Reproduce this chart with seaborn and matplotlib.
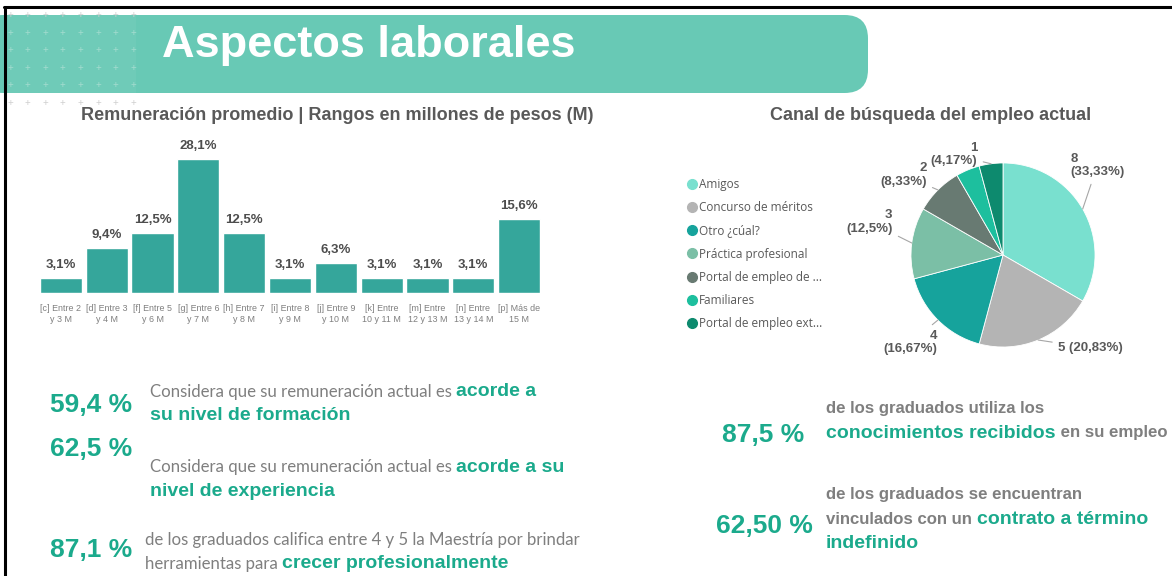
import matplotlib
matplotlib.use("Agg")
import matplotlib.pyplot as plt
import seaborn as sns
import numpy as np
import pandas as pd
from matplotlib.patches import FancyBboxPatch, Rectangle
from matplotlib.lines import Line2D

# ---------------- data ----------------
salary_ranges = ["[c] Entre 2\ny 3 M", "[d] Entre 3\ny 4 M", "[f] Entre 5\ny 6 M",
                 "[g] Entre 6\ny 7 M", "[h] Entre 7\ny 8 M", "[i] Entre 8\ny 9 M",
                 "[j] Entre 9\ny 10 M", "[k] Entre\n10 y 11 M", "[m] Entre\n12 y 13 M",
                 "[n] Entre\n13 y 14 M", "[p] Más de\n15 M"]
salary_pct = [3.1, 9.4, 12.5, 28.1, 12.5, 3.1, 6.3, 3.1, 3.1, 3.1, 15.6]

channels = ["Amigos", "Concurso de méritos", "Otro ¿cúal?", "Práctica profesional",
            "Portal de empleo de ...", "Familiares", "Portal de empleo ext..."]
channel_counts = [8, 5, 4, 3, 2, 1, 1]
channel_pct = ["33,33%", "20,83%", "16,67%", "12,5%", "8,33%", "4,17%", "4,17%"]
# the reference hides the label of "Familiares"
channel_shown = [True, True, True, True, True, False, True]
channel_colors = ["#79E0CF", "#B4B4B4", "#16A39C", "#7BBFA6", "#687A72", "#1DBF9E", "#0D8A6E"]

W, H = 1172, 576
TEAL = "#1BAA8C"
GRAY = "#595959"
LIGHT = "#7F7F7F"
BANNER = "#68C9B5"

sns.set_theme(style="white")
plt.rcParams["font.family"] = ["Liberation Sans", "DejaVu Sans"]

fig = plt.figure(figsize=(W / 100, H / 100), dpi=100)
fig.patch.set_facecolor("white")


def fx(x):
    return x / W


def fy(y):
    return 1 - y / H


# frame lines
fig.add_artist(Line2D([fx(4), fx(W)], [fy(7), fy(7)], color="black", lw=2.2))
fig.add_artist(Line2D([fx(5), fx(5)], [fy(7), fy(H)], color="black", lw=2.2))

# banner
banner = FancyBboxPatch((fx(-20), fy(93)), fx(888), (93 - 15) / H,
                        boxstyle="round,pad=0,rounding_size=0.02",
                        mutation_aspect=W / H,
                        transform=fig.transFigure, facecolor=BANNER, edgecolor="none")
fig.add_artist(banner)
fig.add_artist(Rectangle((fx(6), fy(93)), fx(130), (93 - 15) / H, transform=fig.transFigure,
                         facecolor="#6FCBB8", edgecolor="none"))
for px in np.arange(10, 140, 17.6):
    for py in np.arange(15, 110, 17.6):
        c = "#D0D0D0" if py > 95 or py < 20 else "#A3DCCF"
        fig.text(fx(px), fy(py), "+", color=c, fontsize=7, ha="center", va="center")
fig.text(fx(162), fy(45), "Aspectos laborales", color="white", fontsize=32.5,
         fontweight="bold", ha="left", va="center")

# ---------------- bar chart ----------------
fig.text(fx(337), fy(116), "Remuneración promedio | Rangos en millones de pesos (M)",
         color=GRAY, fontsize=13, fontweight="bold", ha="center", va="center")

ax = fig.add_axes([fx(38), fy(293), 504 / W, (293 - 150) / H])
df = pd.DataFrame({"rango": salary_ranges, "pct": salary_pct})
sns.barplot(data=df, x="rango", y="pct", color="#35A69B", saturation=1, width=0.92, ax=ax)
ax.set_ylim(0, 30)
ax.set_xlim(-0.5, len(salary_ranges) - 0.5)
ax.set_xlabel("")
ax.set_ylabel("")
ax.set_yticks([])
ax.tick_params(axis="x", length=0, labelsize=6.4, labelcolor=LIGHT, pad=8)
for s in ax.spines.values():
    s.set_visible(False)
ax.patch.set_alpha(0)
for i, v in enumerate(salary_pct):
    ax.annotate(f"{v:.1f}%".replace(".", ","), (i, v), xytext=(0, 5),
                textcoords="offset points", ha="center", va="bottom",
                fontsize=9.5, fontweight="bold", color="#4D4D4D")

# ---------------- pie chart ----------------
fig.text(fx(931), fy(115), "Canal de búsqueda del empleo actual",
         color=GRAY, fontsize=13, fontweight="bold", ha="center", va="center")

pax = fig.add_axes([fx(853), fy(405), 300 / W, 300 / H])
wedges, _ = pax.pie(channel_counts, colors=channel_colors, startangle=90,
                    counterclock=False, radius=1,
                    wedgeprops=dict(edgecolor="white", linewidth=0.6))
pax.set_xlim(-1.63, 1.63)
pax.set_ylim(-1.63, 1.63)
pax.set_aspect("equal")

# label anchors (pie units), as placed in the reference ("best fit")
label_anchor = [(0.73, 0.97), (0.60, -1.01), (-0.71, -0.95), (-1.20, 0.36),
                (-0.83, 0.87), None, (-0.28, 1.09)]

for w, n, p, shown, anc in zip(wedges, channel_counts, channel_pct, channel_shown,
                               label_anchor):
    if not shown:
        continue
    ang = np.deg2rad((w.theta1 + w.theta2) / 2)
    cx, cy = np.cos(ang), np.sin(ang)
    single = cy < -0.6 and cx > 0.2
    label = f"{n} ({p})" if single else f"{n}\n({p})"
    ha = "left" if anc[0] > 0 else "right"
    pax.annotate(label, xy=(cx, cy), xytext=anc,
                 ha=ha, va="center", fontsize=9.5, fontweight="bold", color=GRAY,
                 multialignment=ha, linespacing=1.15,
                 arrowprops=dict(arrowstyle="-", color="#A6A6A6", lw=0.8,
                                 shrinkA=2, shrinkB=0))

handles = [Line2D([], [], marker="o", ls="", markersize=7, markerfacecolor=c,
                  markeredgecolor=c) for c in channel_colors]
leg = fig.legend(handles, channels, loc="upper left", bbox_to_anchor=(fx(680), fy(173)),
                 frameon=False, fontsize=8.5, handletextpad=0.0, labelspacing=0.87,
                 handlelength=1.2, borderaxespad=0)
for t in leg.get_texts():
    t.set_color(GRAY)
    t.set_family(["Open Sans", "DejaVu Sans"])

# ---------------- text statements ----------------
renderer = fig.canvas.get_renderer()


def runs(x, y, parts, light=True, size=12.1, bsize=14):
    # draw a line of mixed-style text, each run placed after the previous one
    cur = fx(x)
    for txt, bold in parts:
        if bold:
            t = fig.text(cur, fy(y), txt, color=TEAL, fontsize=bsize, fontweight="bold",
                         ha="left", va="center")
        elif light:
            t = fig.text(cur, fy(y), txt, color=LIGHT, fontsize=size,
                         family=["Lato", "DejaVu Sans"], ha="left", va="center")
        else:
            t = fig.text(cur, fy(y), txt, color=LIGHT, fontsize=size,
                         fontweight="bold", ha="left", va="center")
        bb = t.get_window_extent(renderer=renderer)
        cur = bb.x1 / W


def big(x, y, txt):
    fig.text(fx(x), fy(y), txt, color=TEAL, fontsize=19, fontweight="bold",
             ha="left", va="center")


big(50, 405, "59,4 %")
runs(150, 392, [("Considera que su remuneración actual es ", False), ("acorde a", True)])
runs(150, 416, [("su nivel de formación", True)])

big(50, 449, "62,5 %")
runs(150, 467, [("Considera que su remuneración actual es ", False), ("acorde a su", True)])
runs(150, 491, [("nivel de experiencia", True)])

big(50, 550, "87,1 %")
runs(145, 540, [("de los graduados califica entre 4 y 5 la Maestría por brindar", False)])
runs(145, 564, [("herramientas para ", False), ("crecer profesionalmente", True)])

big(722, 435, "87,5 %")
runs(826, 408, [("de los graduados utiliza los", False)], light=False)
runs(826, 433, [("conocimientos recibidos", True), (" en su empleo", False)], light=False)

big(716, 526, "62,50 %")
runs(826, 495, [("de los graduados se encuentran", False)], light=False)
runs(826, 519, [("vinculados con un ", False), ("contrato a término", True)], light=False)
runs(826, 543, [("indefinido", True)], light=False)

fig.savefig("out.png", dpi=100)
